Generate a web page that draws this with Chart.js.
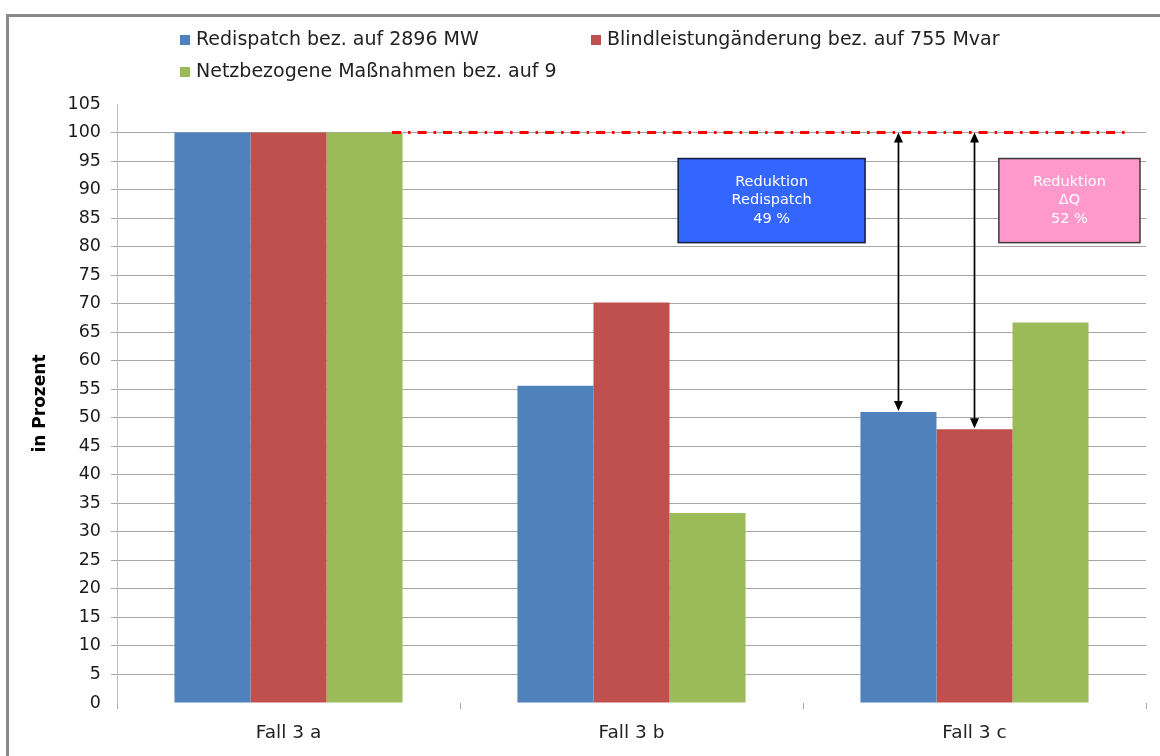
<!DOCTYPE html>
<html>
<head>
<meta charset="utf-8">
<script src="https://cdn.jsdelivr.net/npm/chart.js@4.4.1/dist/chart.umd.min.js"></script>
<style>
  html, body { margin: 0; padding: 0; background: #ffffff; }
  #wrap { position: relative; width: 1160px; height: 756px; overflow: hidden; }
  #frame { position: absolute; left: 6px; top: 14px; width: 1200px; height: 800px;
           border-left: 3px solid #8a8a8a; border-top: 3px solid #8a8a8a; }
  canvas { position: absolute; left: 0; top: 0; }
</style>
</head>
<body>
<div id="wrap">
  <div id="frame"></div>
  <canvas id="chart" width="1160" height="756"></canvas>
</div>
<script>
// Categories and series (values in percent of the reference case)
const categories = ['Fall 3 a', 'Fall 3 b', 'Fall 3 c'];
const seriesNames = [
  'Redispatch bez. auf 2896 MW',
  'Blindleistungänderung bez. auf 755 Mvar',
  'Netzbezogene Maßnahmen bez. auf 9'
];
const redispatch     = [100, 55.6, 51];
const blindleistung  = [100, 70.2, 48];
const netzMassnahmen = [100, 33.3, 66.7];
const seriesColors   = ['#4f81bd', '#c0504d', '#9bbb59'];

// Value axis
const yMin = 0;
const yMax = 105;
const yStep = 5;
const referenceLevel = 100;

const FONT = '"DejaVu Sans", Verdana, sans-serif';

// Reduction callouts: which series/category they refer to and where the box sits
// (x in category units, y in axis units)
const reductionBoxes = [
  { series: 0, category: 2, title: 'Redispatch', x0: 1.136, x1: 1.681, y0: 95.44, y1: 80.7,
    fill: '#3366ff', stroke: '#141a3c', text: '#ffffff' },
  { series: 1, category: 2, title: 'ΔQ', x0: 2.071, x1: 2.4825, y0: 95.44, y1: 80.7,
    fill: '#ff99cc', stroke: '#3a3a3a', text: '#ffffff' }
];
const seriesValues = [redispatch, blindleistung, netzMassnahmen];

// Draws the 100 % reference line, the arrows, the callout boxes and the legend
const overlayPlugin = {
  id: 'overlay',
  afterDatasetsDraw(chart) {
    const { ctx } = chart;
    const xs = chart.scales.x, ys = chart.scales.y;
    const yRef = ys.getPixelForValue(referenceLevel);

    // red dash-dot reference line
    ctx.save();
    ctx.strokeStyle = '#ff0000';
    ctx.lineWidth = 2.8;
    ctx.setLineDash([9, 7, 2.5, 7]);
    ctx.beginPath();
    ctx.moveTo(xs.getPixelForValue(0.302), yRef);
    ctx.lineTo(xs.getPixelForValue(2.4475), yRef);
    ctx.stroke();
    ctx.restore();

    // double-headed arrows from the reference line down to the bar tops
    reductionBoxes.forEach(b => {
      const el = chart.getDatasetMeta(b.series).data[b.category];
      const x = el.x, yTop = yRef, yBot = el.y;
      ctx.save();
      ctx.strokeStyle = '#000';
      ctx.fillStyle = '#000';
      ctx.lineWidth = 1.7;
      ctx.beginPath();
      ctx.moveTo(x, yTop + 6);
      ctx.lineTo(x, yBot - 6);
      ctx.stroke();
      const head = (tipY, dir) => {
        ctx.beginPath();
        ctx.moveTo(x, tipY);
        ctx.lineTo(x - 4.5, tipY + dir * 10);
        ctx.lineTo(x + 4.5, tipY + dir * 10);
        ctx.closePath();
        ctx.fill();
      };
      head(yTop, 1);
      head(yBot - 1, -1);
      ctx.restore();
    });

    // callout boxes
    reductionBoxes.forEach(b => {
      const left = xs.getPixelForValue(b.x0), right = xs.getPixelForValue(b.x1);
      const top = ys.getPixelForValue(b.y0), bottom = ys.getPixelForValue(b.y1);
      const pct = Math.round(referenceLevel - seriesValues[b.series][b.category]);
      const lines = ['Reduktion', b.title, pct + ' %'];
      ctx.save();
      ctx.fillStyle = b.fill;
      ctx.fillRect(left, top, right - left, bottom - top);
      ctx.strokeStyle = b.stroke;
      ctx.lineWidth = 1.5;
      ctx.strokeRect(left, top, right - left, bottom - top);
      ctx.fillStyle = b.text;
      ctx.font = '14.5px ' + FONT;
      ctx.textAlign = 'center';
      ctx.textBaseline = 'middle';
      const cx = (left + right) / 2, cy = (top + bottom) / 2;
      lines.forEach((t, i) => ctx.fillText(t, cx, cy + (i - 1) * 18.5));
      ctx.restore();
    });
  },
  afterDraw(chart) {
    const { ctx } = chart;
    const slots = [[180, 40], [591, 40], [180, 72]];
    ctx.save();
    ctx.font = '19px ' + FONT;
    ctx.textBaseline = 'middle';
    ctx.textAlign = 'left';
    chart.data.datasets.forEach((ds, i) => {
      const [x, y] = slots[i];
      ctx.fillStyle = ds.backgroundColor;
      ctx.fillRect(x, y - 5, 10, 10);
      ctx.fillStyle = '#222222';
      ctx.fillText(ds.label, x + 16, y);
    });
    ctx.restore();
  }
};

const gridColor = '#a6a6a6';

new Chart(document.getElementById('chart'), {
  type: 'bar',
  data: {
    labels: categories,
    datasets: seriesValues.map((vals, i) => ({
      label: seriesNames[i],
      data: vals,
      backgroundColor: seriesColors[i],
      borderWidth: 0,
      barPercentage: 1.0,
      categoryPercentage: 0.665
    }))
  },
  options: {
    responsive: false,
    animation: false,
    devicePixelRatio: 1,
    layout: { padding: { left: 0, right: 14, top: 104, bottom: 0 } },
    plugins: { legend: { display: false }, tooltip: { enabled: false } },
    scales: {
      x: {
        offset: true,
        grid: { offset: true, drawOnChartArea: false, drawTicks: true, tickLength: 6, color: gridColor },
        border: { display: false },
        ticks: { padding: 13, color: '#222222', font: { family: FONT, size: 18.5 } },
        afterFit(s) { s.height = 53; }
      },
      y: {
        min: yMin,
        max: yMax,
        ticks: { stepSize: yStep, padding: 10, color: '#1a1a1a', font: { family: FONT, size: 17.5 } },
        grid: {
          drawTicks: true,
          tickLength: 6,
          color: c => (c.tick && (c.tick.value === yMin || c.tick.value === yMax)) ? 'rgba(0,0,0,0)' : gridColor
        },
        border: { display: true, color: '#bdbdbd' },
        title: {
          display: true,
          text: 'in Prozent',
          color: '#000',
          font: { family: FONT, size: 17, weight: 'bold' },
          padding: { top: 30, bottom: 0 }
        },
        afterFit(s) { s.width = 117; }
      }
    }
  },
  plugins: [overlayPlugin]
});
</script>
</body>
</html>
